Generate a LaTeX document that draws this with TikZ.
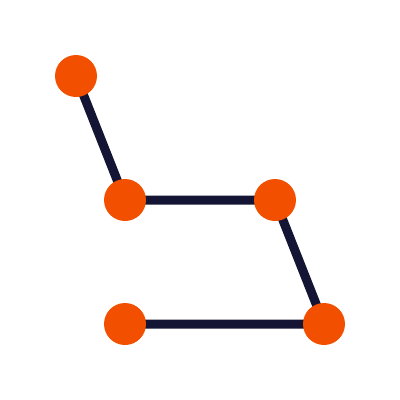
\documentclass[tikz,border=0pt]{standalone}
\usetikzlibrary{backgrounds}
\definecolor{pathInk}{RGB}{20,20,52}
\definecolor{dotFill}{RGB}{242,80,0}
\begin{document}
\begin{tikzpicture}[x=1pt,y=-1pt,inner sep=0pt,outer sep=0pt,
  dot/.style={circle,fill=dotFill,minimum size=42pt},
  link/.style={draw=pathInk,line width=9pt}]
\useasboundingbox (0,0) rectangle (400,400);
\node[dot] (a) at (76.000,76.000) {};
\node[dot] (b) at (125.000,200.000) {};
\node[dot] (c) at (275.000,200.000) {};
\node[dot] (d) at (324.000,324.000) {};
\node[dot] (e) at (125.000,324.000) {};
\begin{scope}[on background layer]
\draw[link] (a.center) -- (b.center) -- (c.center) -- (d.center) -- (e.center);
\end{scope}
\end{tikzpicture}
\end{document}
